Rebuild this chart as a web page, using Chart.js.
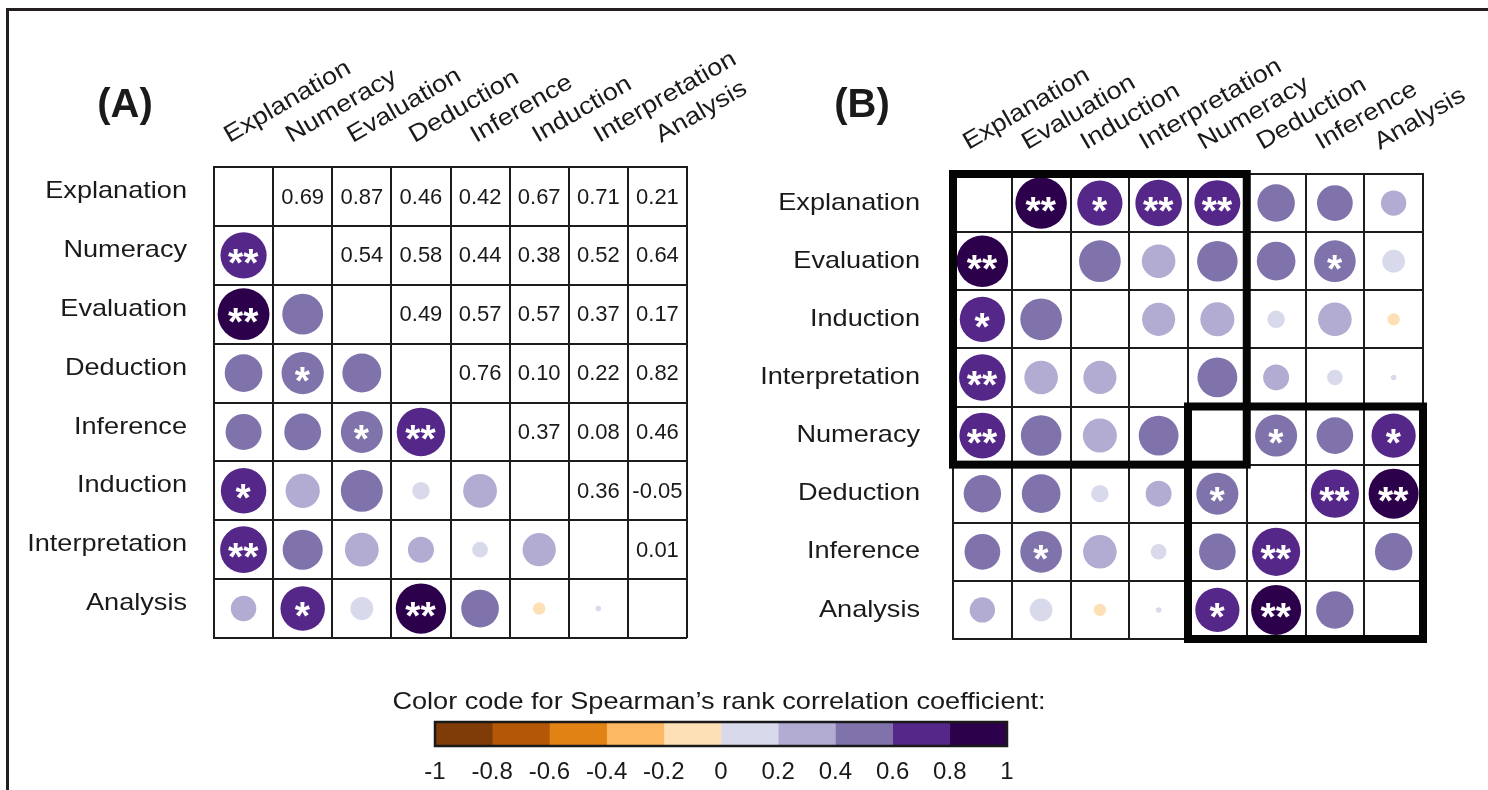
<!DOCTYPE html>
<html>
<head>
<meta charset="utf-8">
<script src="https://cdn.jsdelivr.net/npm/chart.js@4.4.1/dist/chart.umd.min.js"></script>
<style>
  html, body { margin: 0; padding: 0; background: #ffffff; }
  body { width: 1488px; height: 790px; position: relative; overflow: hidden; }
  .frame { position: absolute; left: 6px; top: 8px; width: 1600px; height: 900px;
           border-top: 3px solid #231f20; border-left: 3px solid #231f20; }
  .panel { position: absolute; }
</style>
</head>
<body>
<div class="frame"></div>
<div class="panel" style="left:0;top:0;width:800px;height:660px"><canvas id="corrA"></canvas></div>
<div class="panel" style="left:744px;top:0;width:744px;height:660px"><canvas id="corrB"></canvas></div>
<div class="panel" style="left:360px;top:670px;width:730px;height:120px"><canvas id="colorKey"></canvas></div>
<script>
// Skill order for panel (A) and the clustered order for panel (B)
const skillsA = ['Explanation', 'Numeracy', 'Evaluation', 'Deduction', 'Inference', 'Induction', 'Interpretation', 'Analysis'];
const skillsB = ['Explanation', 'Evaluation', 'Induction', 'Interpretation', 'Numeracy', 'Deduction', 'Inference', 'Analysis'];

// Spearman's rho, upper triangle, one row per skill (columns follow skillsA)
const rhoExplanation    = [0.69, 0.87, 0.46, 0.42, 0.67, 0.71, 0.21];
const rhoNumeracy       = [0.54, 0.58, 0.44, 0.38, 0.52, 0.64];
const rhoEvaluation     = [0.49, 0.57, 0.57, 0.37, 0.17];
const rhoDeduction      = [0.76, 0.10, 0.22, 0.82];
const rhoInference      = [0.37, 0.08, 0.46];
const rhoInduction      = [0.36, -0.05];
const rhoInterpretation = [0.01];

// Significant pairs
const sigOneStar = [['Numeracy', 'Deduction'], ['Evaluation', 'Inference'], ['Explanation', 'Induction'], ['Numeracy', 'Analysis']];
const sigTwoStar = [['Explanation', 'Numeracy'], ['Explanation', 'Evaluation'], ['Deduction', 'Inference'],
                    ['Explanation', 'Interpretation'], ['Deduction', 'Analysis']];

// Clusters outlined in panel (B): first and last skill of each block
const clustersB = [['Explanation', 'Numeracy'], ['Numeracy', 'Analysis']];

// Colour key
const keyBreaks = [-1, -0.8, -0.6, -0.4, -0.2, 0, 0.2, 0.4, 0.6, 0.8, 1];
const keyTickLabels = ['-1', '-0.8', '-0.6', '-0.4', '-0.2', '0', '0.2', '0.4', '0.6', '0.8', '1'];
const keyColors = ['#7f3b08', '#b35806', '#e08214', '#fdb863', '#fee0b6', '#d8daeb', '#b2abd2', '#8073ac', '#542788', '#2d004b'];
const keyTitle = 'Color code for Spearman\u2019s rank correlation coefficient:';

const FONT = '"Liberation Sans", Arial, Helvetica, sans-serif';
const TEXT_STRETCH = 1.13;
const LABEL_ANGLE = 30 * Math.PI / 180;
const INK = '#1a1a1a';
Chart.defaults.font.family = FONT;

const upperRows = [rhoExplanation, rhoNumeracy, rhoEvaluation, rhoDeduction, rhoInference, rhoInduction, rhoInterpretation];

function rho(a, b) {
  let i = skillsA.indexOf(a), j = skillsA.indexOf(b);
  if (i > j) { const t = i; i = j; j = t; }
  return upperRows[i][j - i - 1];
}
function samePair(p, a, b) { return (p[0] === a && p[1] === b) || (p[0] === b && p[1] === a); }
function stars(a, b) {
  if (sigTwoStar.some(p => samePair(p, a, b))) return '**';
  if (sigOneStar.some(p => samePair(p, a, b))) return '*';
  return '';
}
function colorFor(v) {
  const k = Math.min(keyColors.length - 1, Math.max(0, Math.floor((v + 1) * 5 + 1e-9)));
  return keyColors[k];
}

// lower triangle for (A), full matrix without diagonal for (B)
const pointsA = [];
skillsA.forEach((row, i) => skillsA.forEach((col, j) => {
  if (j < i) pointsA.push({ x: col, y: row, v: rho(row, col), s: stars(row, col) });
}));
const pointsB = [];
skillsB.forEach((row, i) => skillsB.forEach((col, j) => {
  if (i !== j) pointsB.push({ x: col, y: row, v: rho(row, col), s: stars(row, col) });
}));

function stretchedText(ctx, text, x, y, angle) {
  ctx.save();
  ctx.translate(x, y);
  if (angle) ctx.rotate(-angle);
  ctx.scale(TEXT_STRETCH, 1);
  ctx.fillText(text, 0, 0);
  ctx.restore();
}

function centeredGlyphs(ctx, text, cx, cy) {
  const m = ctx.measureText(text);
  const x0 = cx - (m.actualBoundingBoxRight - m.actualBoundingBoxLeft) / 2;
  const y0 = cy - (m.actualBoundingBoxDescent - m.actualBoundingBoxAscent) / 2;
  ctx.fillText(text, x0, y0);
}

// axis labels, panel tag, significance stars
function matrixDecor(skills, cfg) {
  return {
    id: 'matrixDecor' + cfg.tag,
    afterDatasetsDraw(chart) {
      const ctx = chart.ctx;
      const ds = chart.data.datasets[0].data;
      ctx.save();
      ctx.fillStyle = '#ffffff';
      ctx.font = 'bold 39px ' + FONT;
      ctx.textAlign = 'left';
      ctx.textBaseline = 'alphabetic';
      chart.getDatasetMeta(0).data.forEach((el, k) => {
        if (ds[k].s) centeredGlyphs(ctx, ds[k].s, el.x, el.y + 1);
      });
      ctx.restore();
    },
    afterDraw(chart) {
      const { ctx, scales: { x, y } } = chart;
      ctx.save();
      ctx.fillStyle = INK;
      ctx.font = '24px ' + FONT;
      ctx.textAlign = 'right';
      ctx.textBaseline = 'middle';
      skills.forEach((s, i) => stretchedText(ctx, s, x.left - cfg.rowGap, y.getPixelForValue(i) + cfg.rowDy, 0));
      ctx.textAlign = 'left';
      ctx.textBaseline = 'alphabetic';
      skills.forEach((s, j) => stretchedText(ctx, s, x.getPixelForValue(j) - 14 + j * cfg.colSpread, y.top - 24, LABEL_ANGLE));
      ctx.font = 'bold 40px ' + FONT;
      ctx.textAlign = 'center';
      ctx.textBaseline = 'middle';
      ctx.fillText(cfg.tag, cfg.tagX, cfg.tagY);
      ctx.restore();
    }
  };
}

// coefficient values in the upper triangle of (A)
const upperValues = {
  id: 'upperValues',
  afterDraw(chart) {
    const { ctx, scales: { x, y } } = chart;
    ctx.save();
    ctx.fillStyle = INK;
    ctx.font = '22px ' + FONT;
    ctx.textAlign = 'center';
    ctx.textBaseline = 'middle';
    skillsA.forEach((row, i) => skillsA.forEach((col, j) => {
      if (j > i) ctx.fillText(rho(row, col).toFixed(2), x.getPixelForValue(j), y.getPixelForValue(i) + 1);
    }));
    ctx.restore();
  }
};

// thick outlines around the clusters in (B)
const clusterBoxes = {
  id: 'clusterBoxes',
  afterDraw(chart) {
    const { ctx, scales: { x, y } } = chart;
    const cw = x.width / skillsB.length, ch = y.height / skillsB.length;
    ctx.save();
    ctx.strokeStyle = '#050505';
    ctx.lineWidth = 8;
    ctx.lineJoin = 'miter';
    clustersB.forEach(([a, b]) => {
      const i0 = skillsB.indexOf(a), i1 = skillsB.indexOf(b);
      const left = x.getPixelForValue(i0) - cw / 2, right = x.getPixelForValue(i1) + cw / 2;
      const top = y.getPixelForValue(i0) - ch / 2, bottom = y.getPixelForValue(i1) + ch / 2;
      ctx.strokeRect(left, top, right - left, bottom - top);
    });
    ctx.restore();
  }
};

function matrixScales(skills) {
  const axis = (position) => ({
    type: 'category',
    labels: skills,
    position,
    offset: true,
    grid: { offset: true, color: '#1c1c1c', lineWidth: 2, drawTicks: false },
    border: { display: true, color: '#1c1c1c', width: 2 },
    ticks: { display: false }
  });
  return { x: axis('top'), y: axis('left') };
}

function circleDataset(points, nCells) {
  const radius = (c) => {
    const area = c.chart.chartArea;
    const cell = area ? (area.right - area.left) / nCells : 59;
    return 0.47 * cell * Math.sqrt(Math.abs(c.raw.v));
  };
  return {
    data: points,
    pointRadius: radius,
    pointHoverRadius: radius,
    pointBackgroundColor: (c) => colorFor(c.raw.v),
    pointBorderWidth: 0,
    pointHoverBorderWidth: 0
  };
}

function matrixChart(canvasId, skills, points, padding, plugins) {
  return new Chart(document.getElementById(canvasId), {
    type: 'scatter',
    data: { datasets: [circleDataset(points, skills.length)] },
    options: {
      responsive: true,
      maintainAspectRatio: false,
      animation: false,
      events: [],
      layout: { padding, autoPadding: false },
      plugins: { legend: { display: false }, tooltip: { enabled: false } },
      scales: matrixScales(skills)
    },
    plugins
  });
}

matrixChart('corrA', skillsA, pointsA, { left: 214, top: 167, right: 113, bottom: 22 },
  [upperValues, matrixDecor(skillsA, { tag: '(A)', tagX: 125, tagY: 106, rowGap: 27, rowDy: -5, colSpread: 2.5 })]);

matrixChart('corrB', skillsB, pointsB, { left: 209, top: 174, right: 65, bottom: 21 },
  [clusterBoxes, matrixDecor(skillsB, { tag: '(B)', tagX: 118, tagY: 106, rowGap: 33, rowDy: 0, colSpread: 0 })]);

// colour key drawn as floating bars on a -1..1 axis
const keyFrame = {
  id: 'keyFrame',
  afterDraw(chart) {
    const { ctx, chartArea: a } = chart;
    ctx.save();
    ctx.strokeStyle = '#1a1a1a';
    ctx.lineWidth = 2.5;
    ctx.strokeRect(a.left, a.top, a.right - a.left, a.bottom - a.top);
    ctx.fillStyle = INK;
    ctx.font = '24px ' + FONT;
    ctx.textAlign = 'center';
    ctx.textBaseline = 'middle';
    stretchedText(ctx, keyTitle, (a.left + a.right) / 2 - 2, a.top - 20, 0);
    ctx.restore();
  }
};

new Chart(document.getElementById('colorKey'), {
  type: 'bar',
  data: {
    labels: [''],
    datasets: keyColors.map((c, k) => ({
      data: [[keyBreaks[k], keyBreaks[k + 1]]],
      backgroundColor: c,
      borderWidth: 0,
      grouped: false,
      barPercentage: 1,
      categoryPercentage: 1
    }))
  },
  options: {
    indexAxis: 'y',
    responsive: true,
    maintainAspectRatio: false,
    animation: false,
    events: [],
    layout: { padding: { left: 75, right: 83, top: 52, bottom: 0 }, autoPadding: false },
    plugins: { legend: { display: false }, tooltip: { enabled: false } },
    scales: {
      x: {
        type: 'linear', min: -1, max: 1, position: 'bottom',
        grid: { display: false, drawTicks: false },
        border: { display: false },
        afterFit: (scale) => { scale.height = 44; },
        ticks: {
          stepSize: 0.2, padding: 12, color: INK, autoSkip: false, maxRotation: 0,
          font: { size: 24, family: FONT },
          callback: (v, i) => keyTickLabels[i]
        }
      },
      y: { display: false }
    }
  },
  plugins: [keyFrame]
});
</script>
</body>
</html>
